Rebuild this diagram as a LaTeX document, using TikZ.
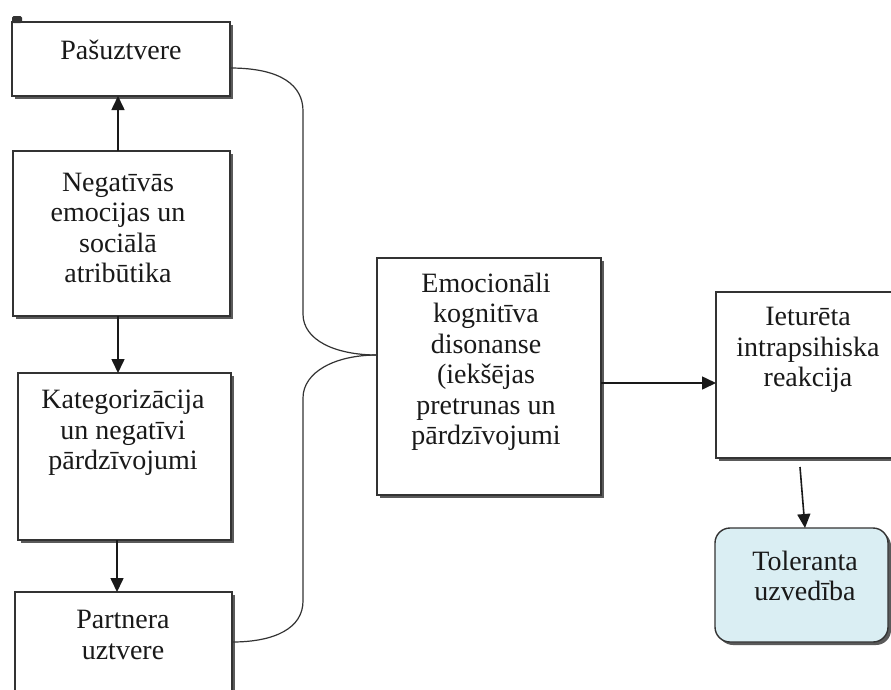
\documentclass[tikz,border=0pt]{standalone}
\usepackage{fontspec}
\setmainfont{Liberation Serif}
\usetikzlibrary{arrows.meta,shadows,calc}

\definecolor{edge}{HTML}{333333}
\definecolor{shade}{HTML}{5A5A5A}
\definecolor{paleblue}{HTML}{DAEEF3}

\tikzset{
  box/.style={draw=edge, line width=1.4pt, fill=white,
    drop shadow={shadow xshift=3pt, shadow yshift=-3pt, fill=shade, opacity=1},
    inner sep=0pt, outer sep=0pt},
  softbox/.style={box, rounded corners=15pt, fill=paleblue},
  label/.style={align=center, inner sep=0pt,
    font=\fontsize{28}{30.5}\selectfont, text=black!90},
  arr/.style={draw=black!90, line width=1.6pt,
    -{Triangle[length=14pt,width=13pt]}},
  link/.style={draw=edge, line width=1.2pt},
}

\begin{document}
\begin{tikzpicture}[x=1pt,y=-1pt]
  \useasboundingbox (0,0) rectangle (891,689);
  \clip (0,0) rectangle (891,689);
  \fill[white] (0,0) rectangle (891,689);

  % left column of boxes
  \node[box, minimum width=218pt, minimum height=74pt]  (B1) at (121,59) {};
  \node[box, minimum width=217pt, minimum height=165pt] (B2) at (121.5,233.5) {};
  \node[box, minimum width=213pt, minimum height=167pt] (B3) at (124.5,456.5) {};
  \node[box, minimum width=217pt, minimum height=140pt] (B4) at (123.5,662) {};

  % centre and right boxes
  \node[box, minimum width=224pt, minimum height=237pt] (C) at (489,376.5) {};
  \node[box, minimum width=184pt, minimum height=166pt] (R) at (808,375) {};
  \node[softbox, minimum width=173pt, minimum height=114pt] (T) at (801.5,585) {};

  % small mark at the top-left corner
  \fill[edge, rounded corners=1.5pt] (12,16) rectangle (22,23);

  % texts
  \node[label] (t1) at (121,50) {Pašuztvere};
  \node[label] (t2) at (118,228) {Negatīvās\\emocijas un\\sociālā\\atribūtika};
  \node[label] (t3) at (123,433) {Kategorizācija\\un negatīvi\\pārdzīvojumi};
  \node[label] (t4) at (123,635) {Partnera\\uztvere};
  \node[label] (t5) at (486,362) {Emocionāli\\kognitīva\\disonanse\\(iekšējas\\pretrunas un\\pārdzīvojumi};
  \node[label] (t6) at (808,350) {Ieturēta\\intrapsihiska\\reakcija};
  \node[label] (t7) at (805,576) {Toleranta\\uzvedība};

  % arrows in the left column
  \draw[arr] ([xshift=-3.5pt]B2.north) -- ([xshift=-3.5pt]B2.north |- B1.south);
  \draw[arr] ([xshift=-3.5pt]B2.south) -- ([xshift=-3.5pt]B2.south |- B3.north);
  \draw[arr] ([xshift=-7.5pt]B3.south) -- ([xshift=-7.5pt]B3.south |- B4.north);

  % brace joining the outer boxes to the centre box
  \coordinate (join) at (C.west |- 0,355);
  \coordinate (upper) at ([yshift=-9pt]B1.east);
  \coordinate (lower) at (B4.east |- 0,642);
  \draw[link] (upper) .. controls (282,68) and (303,86) .. (303,111)
    -- (303,314) .. controls (303,340) and (335,355) .. (join);
  \draw[link] (join) .. controls (335,355) and (303,372) .. (303,398)
    -- (303,601) .. controls (303,628) and (275,642) .. (lower);

  % arrows on the right
  \draw[arr] ([yshift=-6.5pt]C.east) -- ([yshift=-6.5pt]C.east -| R.west);
  \coordinate (down) at (800,467);
  \coordinate (tip) at (805,0 |- T.north);
  \draw[arr] (down) -- (tip);
\end{tikzpicture}
\end{document}
